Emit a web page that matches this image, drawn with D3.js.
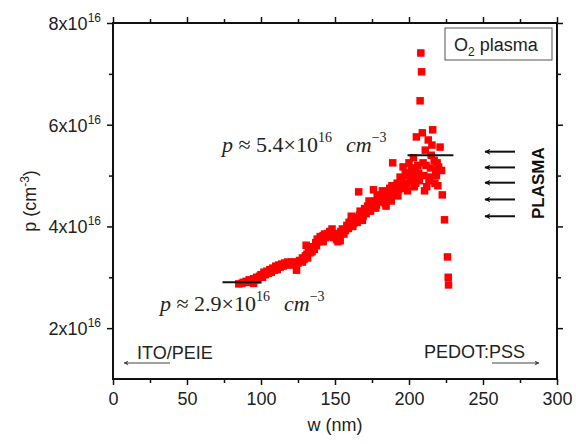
<!DOCTYPE html>
<html>
<head>
<meta charset="utf-8">
<script src="https://cdn.jsdelivr.net/npm/d3@7"></script>
<style>
  body { margin: 0; background: #fff; }
  svg { display: block; }
  text { font-family: "Liberation Sans", Arial, sans-serif; }
  text.serif { font-family: "Liberation Serif", "Times New Roman", serif; }
</style>
</head>
<body>
<svg id="chart" width="576" height="444"></svg>
<script>
// data: thickness w (nm) vs hole density p (in units of 1e16 cm^-3)
const w = [85, 87, 88, 90, 91, 92, 93, 95, 96, 97, 99, 100, 101, 102, 104, 105, 106, 108, 109, 110,
  112, 113, 114, 116, 117, 118, 120, 121, 122, 124, 125, 126, 127, 128, 129, 130, 130.5, 131, 132, 133,
  134, 135, 136, 137, 138, 139, 140, 141, 142, 143, 144, 145, 146, 147, 148, 149, 150, 151, 152, 153,
  154, 155, 156, 157, 158, 159, 160, 161, 162, 163, 164, 165, 166, 166.5, 167, 168, 169, 170, 171, 172,
  173, 174, 175, 176, 176.5, 177, 178, 179, 180, 181, 182, 183, 184, 185, 186, 187, 188, 189, 189.5, 190,
  191, 192, 193, 194, 195, 196, 197, 198, 199, 200, 201, 202, 203, 203.5, 204, 205, 205.5, 206, 207, 207.5,
  208, 208.5, 209, 209.5, 210, 210.5, 211, 212, 213, 213.5, 214, 215, 216, 217, 217.5, 218, 219, 220, 221, 222,
  222.5, 224, 226, 226.5, 226.7,
  95, 98, 103, 107, 111, 115, 119, 123, 128, 131.5, 134.5, 137.5, 140.5, 143.5, 146.5, 150.5, 153.5, 156.5,
  159.5, 162.5, 165.5, 168.5, 171.5, 174.5, 177.5, 180.5, 183.5, 186.5, 190.5, 192.5, 195.5, 198.5, 201.5,
  204.5, 206.5, 211.5, 214.5, 218.5, 219.5, 215.5,
  142, 148, 161, 167, 173, 178.5, 184.5, 188.5, 197.5, 202.5];
const p = [2.87, 2.88, 2.90, 2.92, 2.90, 2.95, 2.93, 2.97, 2.95, 3.00, 3.02, 3.05, 3.00, 3.10, 3.12, 3.08, 3.15, 3.18, 3.14, 3.22,
  3.24, 3.20, 3.26, 3.28, 3.25, 3.30, 3.28, 3.30, 3.27, 3.14, 3.28, 3.33, 3.32, 3.38, 3.35, 3.42, 3.63, 3.45, 3.50, 3.48,
  3.56, 3.60, 3.55, 3.68, 3.75, 3.70, 3.80, 3.78, 3.82, 3.85, 3.80, 3.86, 3.84, 3.88, 3.82, 3.78, 3.86, 3.74, 3.70, 3.80,
  3.90, 3.95, 3.85, 3.92, 4.02, 3.96, 4.05, 4.10, 4.00, 4.12, 4.18, 4.08, 4.68, 4.22, 4.15, 4.28, 4.20, 4.35, 4.25, 4.40,
  4.32, 4.30, 4.45, 4.72, 4.38, 4.50, 4.42, 4.55, 4.48, 4.60, 4.70, 4.52, 4.45, 4.62, 4.58, 4.75, 4.50, 5.25, 4.68, 4.80,
  4.62, 4.85, 4.72, 4.97, 4.90, 5.17, 4.80, 5.00, 4.70, 5.25, 4.90, 5.05, 5.35, 4.78, 5.10, 5.76, 4.95, 5.20, 4.90, 6.47,
  7.41, 7.04, 5.84, 5.25, 5.00, 4.70, 5.50, 4.78, 5.70, 4.90, 4.97, 5.40, 5.90, 5.30, 4.85, 5.10, 5.25, 5.17, 5.56, 5.10,
  4.62, 4.13, 3.40, 3.00, 2.85,
  2.88, 2.95, 3.05, 3.10, 3.15, 3.22, 3.24, 3.30, 3.30, 3.38, 3.50, 3.62, 3.72, 3.78, 3.90, 3.80, 3.72, 3.92,
  4.08, 4.06, 4.15, 4.12, 4.32, 4.40, 4.36, 4.55, 4.62, 4.52, 4.70, 4.60, 4.75, 4.85, 5.15,
  4.85, 5.05, 5.20, 5.15, 5.00, 4.80, 5.60,
  3.70, 3.95, 4.20, 4.30, 4.50, 4.62, 4.40, 4.80, 5.05, 4.95];

const xTicks = [0, 50, 100, 150, 200, 250, 300];
const xMinor = [25, 75, 125, 175, 225, 275];
const yTicks = [2, 4, 6, 8];
const yMinor = [3, 5, 7];

// average density guides
const levels = [
  { p: 2.9, w0: 74, w1: 100, label: "2.9" },
  { p: 5.4, w0: 199, w1: 230, label: "5.4" }
];
const plasmaArrows = [5.47, 5.16, 4.86, 4.53, 4.2];

const svg = d3.select("#chart");
const x = d3.scaleLinear().domain([0, 300]).range([113, 557]);
const y = d3.scaleLinear().domain([1, 8]).range([379, 23]);

const defs = svg.append("defs");
const mk = (id, col, mw, mh) => defs.append("marker").attr("id", id).attr("viewBox", "0 0 10 10")
  .attr("refX", 9).attr("refY", 5).attr("markerWidth", mw).attr("markerHeight", mh)
  .attr("markerUnits", "userSpaceOnUse").attr("orient", "auto")
  .append("path").attr("d", "M10,5L0,0L3,5L0,10Z").attr("fill", col);
mk("head", "#111", 8, 6);
mk("headGray", "#444", 7, 5);

// axes with ticks on all four sides
const styleAxis = g => {
  g.selectAll(".domain").remove();
  g.selectAll("line").attr("stroke", "#111").attr("stroke-width", 1.5);
};
svg.append("g").attr("transform", "translate(0,379)")
  .call(d3.axisBottom(x).tickValues(xTicks).tickSize(6).tickFormat(d3.format("d")))
  .call(styleAxis)
  .call(g => g.selectAll("text").attr("font-size", 18).attr("fill", "#222").attr("dy", "0.95em"));
svg.append("g").attr("transform", "translate(0,379)")
  .call(d3.axisBottom(x).tickValues(xMinor).tickSize(4).tickFormat("")).call(styleAxis);
svg.append("g").attr("transform", "translate(0,23)")
  .call(d3.axisTop(x).tickValues(xTicks).tickSize(6).tickFormat("")).call(styleAxis);
svg.append("g").attr("transform", "translate(0,23)")
  .call(d3.axisTop(x).tickValues(xMinor).tickSize(4).tickFormat("")).call(styleAxis);
svg.append("g").attr("transform", "translate(113,0)")
  .call(d3.axisLeft(y).tickValues(yTicks).tickSize(6).tickFormat("")).call(styleAxis);
svg.append("g").attr("transform", "translate(113,0)")
  .call(d3.axisLeft(y).tickValues(yMinor).tickSize(4).tickFormat("")).call(styleAxis);
svg.append("g").attr("transform", "translate(557,0)")
  .call(d3.axisRight(y).tickValues(yTicks).tickSize(6).tickFormat("")).call(styleAxis);
svg.append("g").attr("transform", "translate(557,0)")
  .call(d3.axisRight(y).tickValues(yMinor).tickSize(4).tickFormat("")).call(styleAxis);

svg.append("rect").attr("x", x(0)).attr("y", y(8))
  .attr("width", x(300) - x(0)).attr("height", y(1) - y(8))
  .attr("fill", "none").attr("stroke", "#111").attr("stroke-width", 2);

// y tick labels  "8x10^16"
yTicks.forEach(v => {
  const t = svg.append("text").attr("x", 101).attr("y", y(v) + 7)
    .attr("text-anchor", "end").attr("font-size", 18).attr("fill", "#222");
  t.append("tspan").text(v + "x10");
  t.append("tspan").attr("dy", -8).attr("font-size", 12).text("16");
});

// axis titles
svg.append("text").attr("x", x(150)).attr("y", 431).attr("text-anchor", "middle")
  .attr("font-size", 18).attr("fill", "#222").text("w (nm)");
const yl = svg.append("text").attr("transform", `translate(36,${(y(1) + y(8)) / 2}) rotate(-90)`)
  .attr("text-anchor", "middle").attr("font-size", 18).attr("fill", "#222");
yl.append("tspan").text("p (cm");
yl.append("tspan").attr("dy", -7).attr("font-size", 12).text("-3");
yl.append("tspan").attr("dy", 7).text(")");

// data squares
const s = 7.5;
svg.append("g").selectAll("rect").data(w.map((d, i) => [d, p[i]])).join("rect")
  .attr("x", d => x(d[0]) - s / 2).attr("y", d => y(d[1]) - s / 2)
  .attr("width", s).attr("height", s).attr("fill", "#f00");

// level lines
svg.append("g").selectAll("line").data(levels).join("line")
  .attr("x1", d => x(d.w0)).attr("x2", d => x(d.w1))
  .attr("y1", d => y(d.p)).attr("y2", d => y(d.p))
  .attr("stroke", "#111").attr("stroke-width", 2);

// annotations  p ≈ a×10^16 cm^-3
const annot = (ax, ay, val) => {
  const t = svg.append("text").attr("class", "serif").attr("x", ax).attr("y", ay)
    .attr("font-size", 22).attr("fill", "#222");
  t.append("tspan").attr("font-style", "italic").text("p");
  t.append("tspan").text(" \u2248 " + val + "\u00d710");
  t.append("tspan").attr("dy", -10).attr("font-size", 14).text("16");
  t.append("tspan").attr("dy", 10).attr("dx", 14).attr("font-style", "italic").text("cm");
  t.append("tspan").attr("dy", -10).attr("font-size", 14).text("\u22123");
};
annot(222, 152, levels[1].label);
annot(160, 311, levels[0].label);

// legend box
svg.append("rect").attr("x", 445).attr("y", 28).attr("width", 107).attr("height", 32)
  .attr("fill", "#fff").attr("stroke", "#555").attr("stroke-width", 1);
const lg = svg.append("text").attr("x", 454).attr("y", 51).attr("font-size", 18).attr("fill", "#222");
lg.append("tspan").text("O");
lg.append("tspan").attr("dy", 5).attr("font-size", 12).text("2");
lg.append("tspan").attr("dy", -5).text(" plasma");

// plasma arrows
svg.append("g").selectAll("line").data(plasmaArrows).join("line")
  .attr("x1", 515).attr("x2", 485).attr("y1", d => y(d)).attr("y2", d => y(d))
  .attr("stroke", "#111").attr("stroke-width", 2).attr("marker-end", "url(#head)");
svg.append("text").attr("transform", `translate(544,${y(4.85)}) rotate(-90)`)
  .attr("text-anchor", "middle").attr("font-size", 17).attr("font-weight", "bold")
  .attr("fill", "#111").text("PLASMA");

// electrode labels
svg.append("text").attr("x", 137).attr("y", 359).attr("font-size", 18).attr("fill", "#222").text("ITO/PEIE");
svg.append("line").attr("x1", 170).attr("x2", 124).attr("y1", 363).attr("y2", 363)
  .attr("stroke", "#444").attr("stroke-width", 1.2).attr("marker-end", "url(#headGray)");
svg.append("text").attr("x", 424).attr("y", 358).attr("font-size", 18).attr("fill", "#222").text("PEDOT:PSS");
svg.append("line").attr("x1", 492).attr("x2", 539).attr("y1", 363).attr("y2", 363)
  .attr("stroke", "#444").attr("stroke-width", 1.2).attr("marker-end", "url(#headGray)");
</script>
</body>
</html>
